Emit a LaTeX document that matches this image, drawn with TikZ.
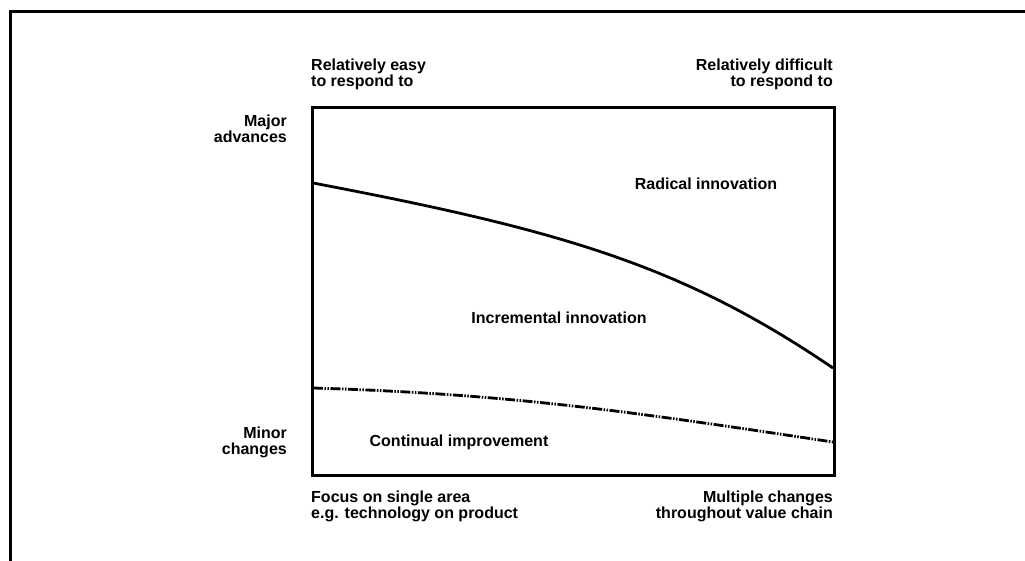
\documentclass[tikz,border=0pt]{standalone}
\usepackage{fontspec}
\setmainfont{Liberation Sans}
\begin{document}
\begin{tikzpicture}[x=1pt,y=-1pt,
  lbl/.style={font=\bfseries\fontsize{16}{15.5}\selectfont, inner sep=0pt},
  frame/.style={line width=3pt},
  curve/.style={line width=2.8pt}]
\path[use as bounding box, clip] (0,0) rectangle (1025,560);
\fill[white] (0,0) rectangle (1025,560);
% outer frame (only top and left visible)
\draw[frame] (10,600) |- (1100,11);
% inner box
\node[draw, line width=3pt, minimum width=522pt, minimum height=368pt, inner sep=0pt, anchor=north west] (box) at (311,106) {};
% corner labels
\node[lbl, align=left, anchor=base west] (tl) at (311,86) {Relatively easy\\to respond to};
\node[lbl, align=right, anchor=base east] (tr) at (833,86) {Relatively difficult\\to respond to};
\node[lbl, align=right, anchor=base east] (major) at (287,142) {Major\\advances};
\node[lbl, align=right, anchor=base east] (minor) at (287,454) {Minor\\changes};
\node[lbl, align=left, anchor=base west] (bl) at (311,518) {Focus on single area\\e.g. technology on product};
\node[lbl, align=right, anchor=base east] (br) at (833,518) {Multiple changes\\throughout value chain};
% region labels
\node[lbl, anchor=base] (rad) at (706,189) {Radical innovation};
\node[lbl, anchor=base] (inc) at (559,323) {Incremental innovation};
\node[lbl, anchor=base] (con) at (459,446) {Continual improvement};
% curves
\coordinate (u0) at (313,183);
\coordinate (u1) at (833,368);
\coordinate (l0) at (313,388);
\coordinate (l1) at (833,442);
\draw[curve] (u0) .. controls (563,230.5) and (683,266) .. (u1);
\draw[curve, dash pattern=on 10pt off 1.5pt on 1.5pt off 1.5pt on 1.5pt off 1.5pt] (l0) .. controls (513,394) and (633,412) .. (l1);
\end{tikzpicture}
\end{document}
